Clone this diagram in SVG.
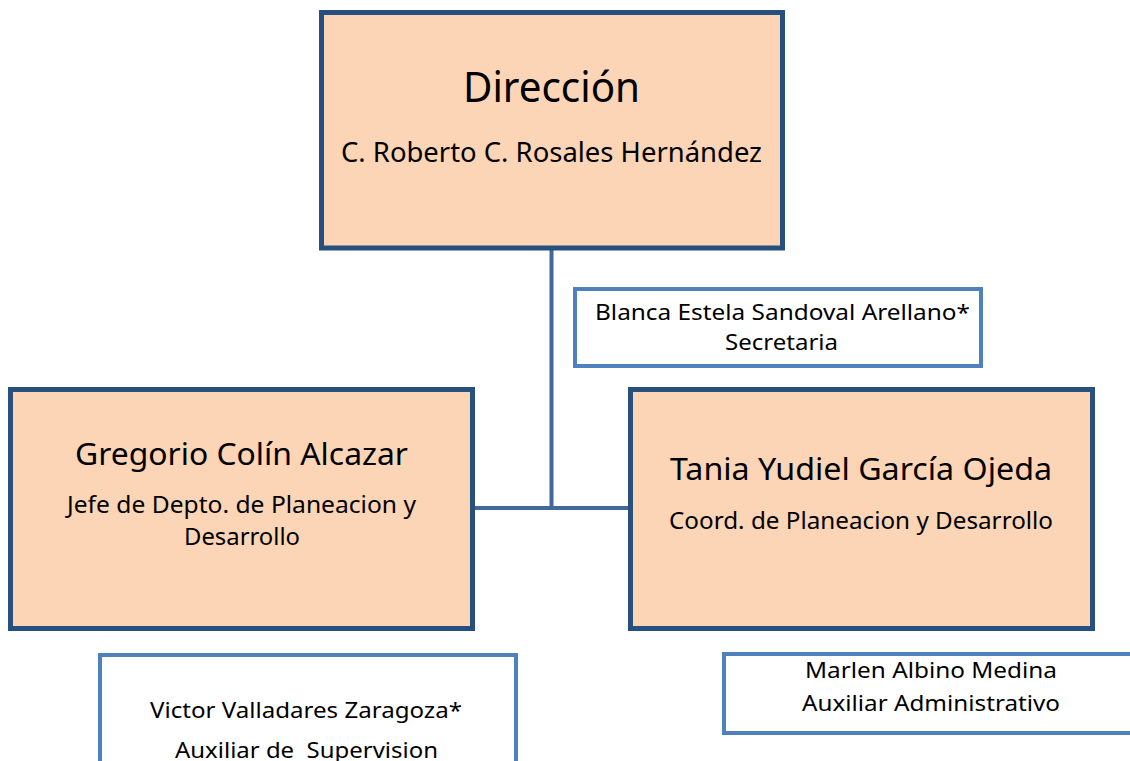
<svg xmlns="http://www.w3.org/2000/svg" width="1130" height="761" viewBox="0 0 1130 761">
<style>
.main{fill:#fbd5b5;stroke:#27507f;stroke-width:5}
.sub{fill:#ffffff;stroke:#4f81bd;stroke-width:4}
.conn{stroke:#41699b;stroke-width:4;fill:none}
text{font-family:"Noto Sans","Open Sans","Liberation Sans",sans-serif;fill:#000;text-anchor:middle}
.t1{font-size:41px}
.t2{font-size:30px}
.t3{font-size:28px}
.t4{font-size:23px}
.t5{font-size:22px}
</style>
<rect width="1130" height="761" fill="#ffffff"/>
<g id="connectors">
<line class="conn" x1="551.5" y1="250" x2="551.5" y2="510"/>
<line class="conn" x1="474" y1="508" x2="631" y2="508"/>
</g>
<g id="direccion">
<rect class="main" x="321.5" y="12.5" width="461" height="235.5"/>
<text class="t1" x="551.5" y="102" textLength="177" lengthAdjust="spacingAndGlyphs">Dirección</text>
<text class="t3" x="551.5" y="162" textLength="421" lengthAdjust="spacingAndGlyphs">C. Roberto C. Rosales Hernández</text>
</g>
<g id="secretaria">
<rect class="sub" x="575" y="289" width="406" height="77"/>
<text class="t5" x="782.5" y="320" textLength="375" lengthAdjust="spacingAndGlyphs">Blanca Estela Sandoval Arellano*</text>
<text class="t5" x="781.5" y="350" textLength="113" lengthAdjust="spacingAndGlyphs">Secretaria</text>
</g>
<g id="gregorio">
<rect class="main" x="10.5" y="389.5" width="462" height="239"/>
<text class="t2" x="241.5" y="465" textLength="333" lengthAdjust="spacingAndGlyphs">Gregorio Colín Alcazar</text>
<text class="t4" x="241.5" y="513" textLength="349" lengthAdjust="spacingAndGlyphs">Jefe de Depto. de Planeacion y</text>
<text class="t4" x="242" y="545" textLength="116" lengthAdjust="spacingAndGlyphs">Desarrollo</text>
</g>
<g id="tania">
<rect class="main" x="630.5" y="389.5" width="462" height="239"/>
<text class="t2" x="861" y="480" textLength="382" lengthAdjust="spacingAndGlyphs">Tania Yudiel García Ojeda</text>
<text class="t4" x="861" y="529" textLength="384" lengthAdjust="spacingAndGlyphs">Coord. de Planeacion y Desarrollo</text>
</g>
<g id="victor">
<rect class="sub" x="100" y="655" width="416" height="130"/>
<text class="t5" x="306" y="718" textLength="312" lengthAdjust="spacingAndGlyphs">Victor Valladares Zaragoza*</text>
<text class="t5" x="306.5" y="758" textLength="263" lengthAdjust="spacingAndGlyphs" xml:space="preserve">Auxiliar de  Supervision</text>
</g>
<g id="marlen">
<rect class="sub" x="724" y="654" width="430" height="79"/>
<text class="t5" x="931" y="678" textLength="252" lengthAdjust="spacingAndGlyphs">Marlen Albino Medina</text>
<text class="t5" x="931" y="711" textLength="258" lengthAdjust="spacingAndGlyphs">Auxiliar Administrativo</text>
</g>
</svg>
